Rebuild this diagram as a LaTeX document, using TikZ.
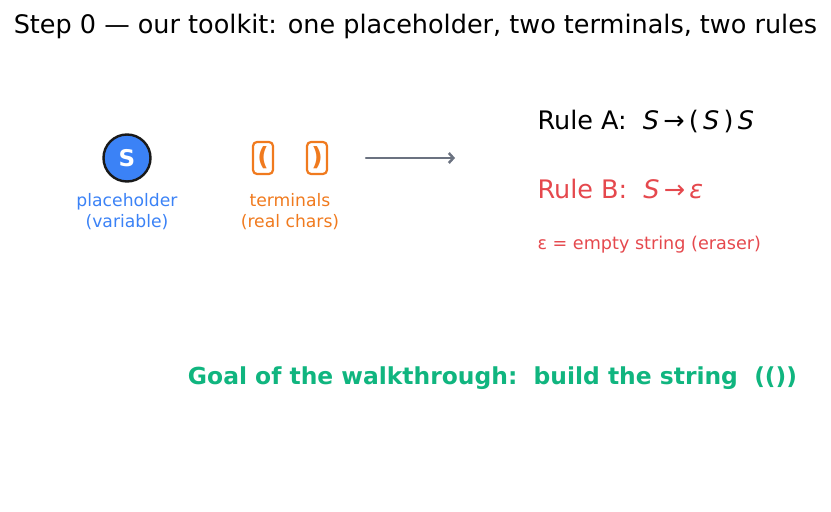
\documentclass[tikz,border=0pt]{standalone}
\usepackage{fontspec}
\setmainfont{DejaVu Sans}
\usetikzlibrary{arrows.meta}
\definecolor{varblue}{HTML}{3B82F6}
\definecolor{termorange}{HTML}{F07A1E}
\definecolor{rulered}{HTML}{E5484D}
\definecolor{goalgreen}{HTML}{10B57F}
\definecolor{arrowgray}{HTML}{6B7280}
\tikzset{
 placeholder/.style={circle,draw=black!90,line width=2.4pt,fill=varblue,minimum size=47pt,inner sep=0,text=white,font=\fontsize{23}{23}\selectfont\bfseries},
 terminal/.style={rounded corners=4pt,draw=termorange,line width=2.2pt,fill=white,minimum width=20pt,minimum height=32pt,inner sep=0,text=termorange,font=\fontsize{25}{25}\selectfont\bfseries},
 caption/.style={align=center,font=\fontsize{17.2}{21}\selectfont},
 ruletext/.style={anchor=west,font=\fontsize{25.5}{25.5}\selectfont},
 toolarrow/.style={-{Straight Barb[length=4.5pt,width=10pt]},draw=arrowgray,line width=2.5pt,line cap=round}
}
\begin{document}
\begin{tikzpicture}[x=1pt,y=1pt]
\path[use as bounding box] (0,0) rectangle (831,512);
\node[font=\fontsize{25.5}{25.5}\selectfont] (title) at (415.5,486) {Step 0 — our toolkit: one placeholder, two terminals, two rules};
% placeholder
\node[placeholder] (S) at (127,354) {S};
\node[caption,text=varblue] (Scap) at (127,300) {placeholder\\(variable)};
% terminals
\node[terminal] (open) at (263,354) {(};
\node[terminal] (close) at (317,354) {)};
\node[caption,text=termorange] (termcap) at (290,300) {terminals\\(real chars)};
\coordinate (arrowstart) at (366,354);
\coordinate (arrowend) at (455,354);
\draw[toolarrow] (arrowstart) -- (arrowend);
% rules
\node[ruletext] (ruleA) at (534,391) {Rule A:\ \ \textit{S}\,→\,(\,\textit{S}\,)\,\textit{S}};
\node[ruletext,text=rulered] (ruleB) at (534,323) {Rule B:\ \ \textit{S}\,→\,\textit{ε}};
\node[anchor=west,text=rulered,font=\fontsize{17.6}{17.6}\selectfont] (eps) at (534,267) {ε = empty string (eraser)};
\node[text=goalgreen,font=\fontsize{23.4}{23.4}\selectfont\bfseries] (goal) at (492.5,134) {Goal of the walkthrough:\ \ build the string\ \ (())};
\end{tikzpicture}
\end{document}
